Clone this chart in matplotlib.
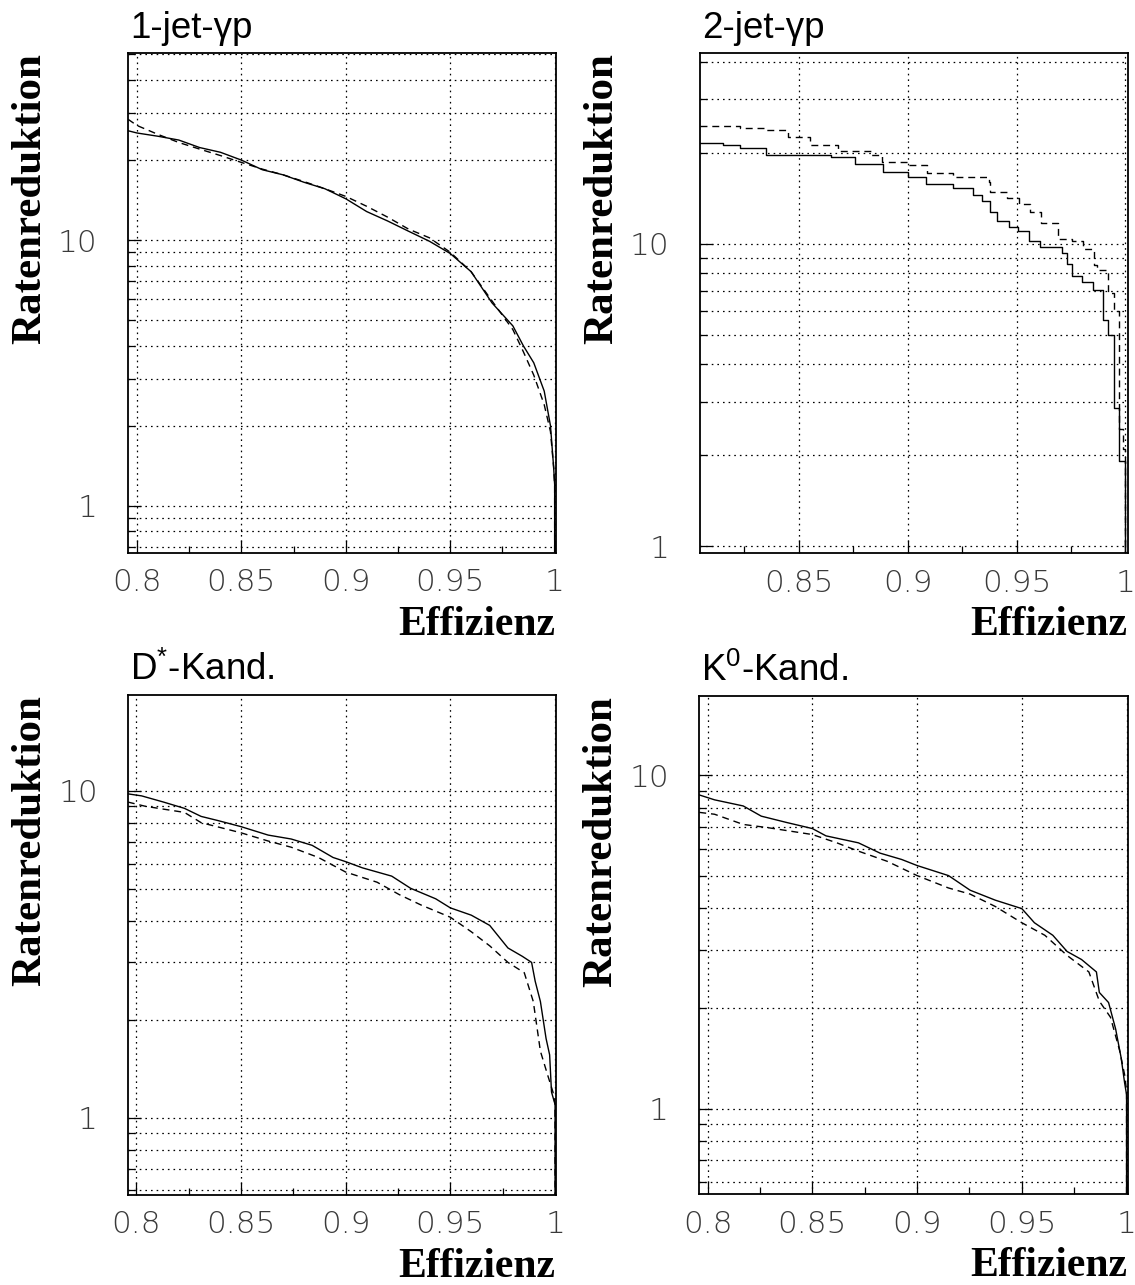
import matplotlib
matplotlib.use('Agg')
import matplotlib.pyplot as plt
from matplotlib.ticker import MultipleLocator, LogLocator, FuncFormatter, NullFormatter

plt.rcParams['mathtext.fontset'] = 'custom'
plt.rcParams['mathtext.rm'] = 'Liberation Sans'
plt.rcParams['mathtext.it'] = 'Liberation Sans:italic'

# panel titles
titles = ['1-jet-γp', '2-jet-γp', r'D$^{*}$-Kand.', r'K$^{0}$-Kand.']

# 1-jet-gamma p
eff1_s = [0.7957, 0.80, 0.81, 0.82, 0.83, 0.84, 0.85, 0.86, 0.87, 0.88, 0.89, 0.90,
          0.91, 0.92, 0.93, 0.94, 0.95, 0.96, 0.97, 0.98, 0.985, 0.99, 0.995, 0.998,
          0.9995, 1.0, 1.0]
red1_s = [25.8, 25.3, 24.6, 23.8, 22.3, 21.4, 20.0, 18.4, 17.6, 16.5, 15.6, 14.3,
          12.8, 11.8, 10.8, 9.9, 8.9, 7.6, 5.8, 4.75, 4.0, 3.45, 2.7, 2.0,
          1.4, 1.2, 0.5]
eff1_d = eff1_s
red1_d = [28.5, 27.0, 25.0, 23.3, 22.0, 20.8, 19.6, 18.5, 17.6, 16.6, 15.6, 14.6,
          13.4, 12.2, 11.0, 10.2, 9.0, 7.6, 5.9, 4.6, 3.8, 3.1, 2.4, 1.9,
          1.4, 1.2, 0.5]

# 2-jet-gamma p (coarse steps)
eff2_s = [0.8046, 0.815, 0.823, 0.835, 0.8646, 0.876, 0.8886, 0.90, 0.9085, 0.921,
          0.930, 0.934, 0.938, 0.941, 0.9466, 0.9508, 0.9557, 0.9607, 0.9707, 0.973,
          0.9756, 0.980, 0.985, 0.9897, 0.992, 0.9947, 0.9972, 0.9997, 1.0]
red2_s = [21.5, 21.2, 20.7, 19.6, 19.3, 18.4, 17.3, 16.6, 15.8, 15.3,
          14.5, 13.9, 12.7, 11.9, 11.4, 11.0, 10.2, 9.75, 9.3, 8.6,
          7.85, 7.5, 7.05, 5.6, 5.0, 2.86, 1.91, 0.9, 0.9]
eff2_d = [0.8046, 0.823, 0.834, 0.845, 0.855, 0.868, 0.883, 0.888, 0.90, 0.909,
          0.921, 0.9375, 0.938, 0.9458, 0.951, 0.956, 0.961, 0.969, 0.9756, 0.9806,
          0.9856, 0.987, 0.992, 0.9947, 0.997, 0.9989, 1.0]
red2_d = [24.5, 24.2, 23.7, 22.6, 21.2, 20.2, 19.6, 18.7, 18.2, 17.1,
          16.6, 16.0, 14.8, 14.2, 13.5, 12.7, 11.7, 10.4, 10.2, 9.6,
          8.5, 8.2, 6.9, 6.0, 2.45, 2.1, 0.9]

# D* candidates
eff3_s = [0.796, 0.8026, 0.813, 0.823, 0.831, 0.839, 0.85, 0.863, 0.874, 0.884,
          0.894, 0.90, 0.908, 0.922, 0.931, 0.943, 0.95, 0.96, 0.9688, 0.9775,
          0.9844, 0.9888, 0.9905, 0.993, 0.9957, 0.9974, 0.9983, 1.0, 1.0]
red3_s = [9.8, 9.66, 9.25, 8.85, 8.36, 8.12, 7.78, 7.33, 7.13, 6.82,
          6.26, 6.08, 5.82, 5.49, 5.04, 4.68, 4.39, 4.17, 3.88, 3.31,
          3.12, 2.99, 2.62, 2.27, 1.75, 1.56, 1.2, 1.1, 0.5]
eff3_d = [0.796, 0.8043, 0.813, 0.823, 0.831, 0.85, 0.863, 0.874, 0.887, 0.90,
          0.915, 0.9256, 0.936, 0.95, 0.96, 0.9688, 0.9775, 0.9853, 0.9896, 0.993,
          0.9965, 0.999, 1.0, 1.0]
red3_d = [9.25, 8.98, 8.8, 8.6, 8.0, 7.45, 7.03, 6.73, 6.26, 5.65,
          5.26, 4.82, 4.48, 4.11, 3.71, 3.36, 2.99, 2.78, 2.27, 1.6,
          1.35, 1.2, 1.1, 0.5]

# K0 candidates
eff4_s = [0.796, 0.8033, 0.817, 0.8256, 0.8376, 0.85, 0.8565, 0.872, 0.8823, 0.8926,
          0.90, 0.915, 0.9253, 0.9373, 0.95, 0.956, 0.9648, 0.9716, 0.9785, 0.9856,
          0.987, 0.9914, 0.9948, 0.9974, 0.9991, 1.0, 1.0]
red4_s = [8.73, 8.44, 8.09, 7.54, 7.22, 6.92, 6.58, 6.27, 5.84, 5.59,
          5.36, 5.0, 4.52, 4.22, 3.98, 3.61, 3.31, 2.96, 2.8, 2.57,
          2.23, 2.08, 1.73, 1.42, 1.19, 1.1, 0.5]
eff4_d = [0.796, 0.8033, 0.817, 0.829, 0.85, 0.8617, 0.872, 0.8857, 0.90, 0.915,
          0.9253, 0.9373, 0.95, 0.961, 0.9716, 0.982, 0.987, 0.9923, 0.9966, 0.9991,
          1.0, 1.0]
red4_d = [7.74, 7.64, 7.12, 6.96, 6.64, 6.27, 5.92, 5.52, 5.0, 4.59,
          4.40, 4.04, 3.61, 3.31, 2.88, 2.57, 2.1, 1.88, 1.5, 1.26,
          1.13, 0.5]

curves = [(eff1_s, red1_s, eff1_d, red1_d),
          (eff2_s, red2_s, eff2_d, red2_d),
          (eff3_s, red3_s, eff3_d, red3_d),
          (eff4_s, red4_s, eff4_d, red4_d)]
xlims = [(0.7957, 1.0005), (0.8046, 1.001), (0.7962, 1.0003), (0.796, 1.0005)]
ylims = [(0.663, 50.7), (0.949, 42.8), (0.581, 19.65), (0.553, 17.3)]
steps = [False, True, False, False]

rects = [[0.1128, 0.5696, 0.3768, 0.3893],
         [0.6167, 0.5694, 0.3768, 0.3896],
         [0.1130, 0.0700, 0.3766, 0.3891],
         [0.6161, 0.0706, 0.3774, 0.3878]]

fig = plt.figure(figsize=(11.35, 12.85), dpi=100)
tickfont = {'family': 'DejaVu Sans', 'weight': 'light', 'size': 22.5}
grid_kw = dict(color='black', linestyle=(0, (1.3, 3.2)), linewidth=0.9)

for i in range(4):
    ax = fig.add_axes(rects[i])
    xs, ys, xd, yd = curves[i]
    ds = 'steps-post' if steps[i] else 'default'
    ax.plot(xs, ys, color='black', lw=1.0, drawstyle=ds)
    ax.plot(xd, yd, color='black', lw=1.0, linestyle=(0, (5, 3.5)), drawstyle=ds)
    ax.set_yscale('log')
    ax.set_xlim(xlims[i])
    ax.set_ylim(ylims[i])

    ax.xaxis.set_major_locator(MultipleLocator(0.05))
    ax.xaxis.set_minor_locator(MultipleLocator(0.025))
    ax.xaxis.set_major_formatter(FuncFormatter(lambda v, p: '%g' % round(v, 3)))
    ax.yaxis.set_major_locator(LogLocator(base=10, subs=(1.0,)))
    ax.yaxis.set_minor_locator(LogLocator(base=10, subs=(2, 3, 4, 5, 6, 7, 8, 9)))
    ax.yaxis.set_major_formatter(FuncFormatter(lambda v, p: '%g' % v))
    ax.yaxis.set_minor_formatter(NullFormatter())

    ax.grid(True, which='major', axis='x', **grid_kw)
    ax.grid(True, which='both', axis='y', **grid_kw)

    ax.tick_params(which='both', direction='in', top=False, right=False, width=0.9, colors='black')
    ax.tick_params(which='major', length=9.5)
    ax.tick_params(which='minor', length=5)
    ax.tick_params(axis='x', which='major', pad=11)
    ax.tick_params(axis='y', which='major', pad=22)
    for lab in ax.get_xticklabels() + ax.get_yticklabels():
        lab.set_fontproperties(matplotlib.font_manager.FontProperties(**tickfont))
        lab.set_color('#3a3a3a')
    for sp in ax.spines.values():
        sp.set_linewidth(1.3)

    ax.text(0.005, 1.03, titles[i], transform=ax.transAxes, ha='left', va='baseline',
            fontsize=26.5, family='Liberation Sans')
    ax.set_ylabel('Ratenreduktion', fontsize=31, family='Liberation Serif', weight='bold')
    ax.yaxis.set_label_coords(-0.229, 1.0)
    ax.yaxis.label.set_rotation_mode('default')
    ax.yaxis.label.set_ha('center')
    ax.yaxis.label.set_va('top')
    ax.set_xlabel('Effizienz', fontsize=30, family='Liberation Serif', weight='bold')
    ax.xaxis.set_label_coords(1.0, -0.163)
    ax.xaxis.label.set_ha('right')
    ax.xaxis.label.set_va('baseline')

fig.savefig('out.png', dpi=100)
